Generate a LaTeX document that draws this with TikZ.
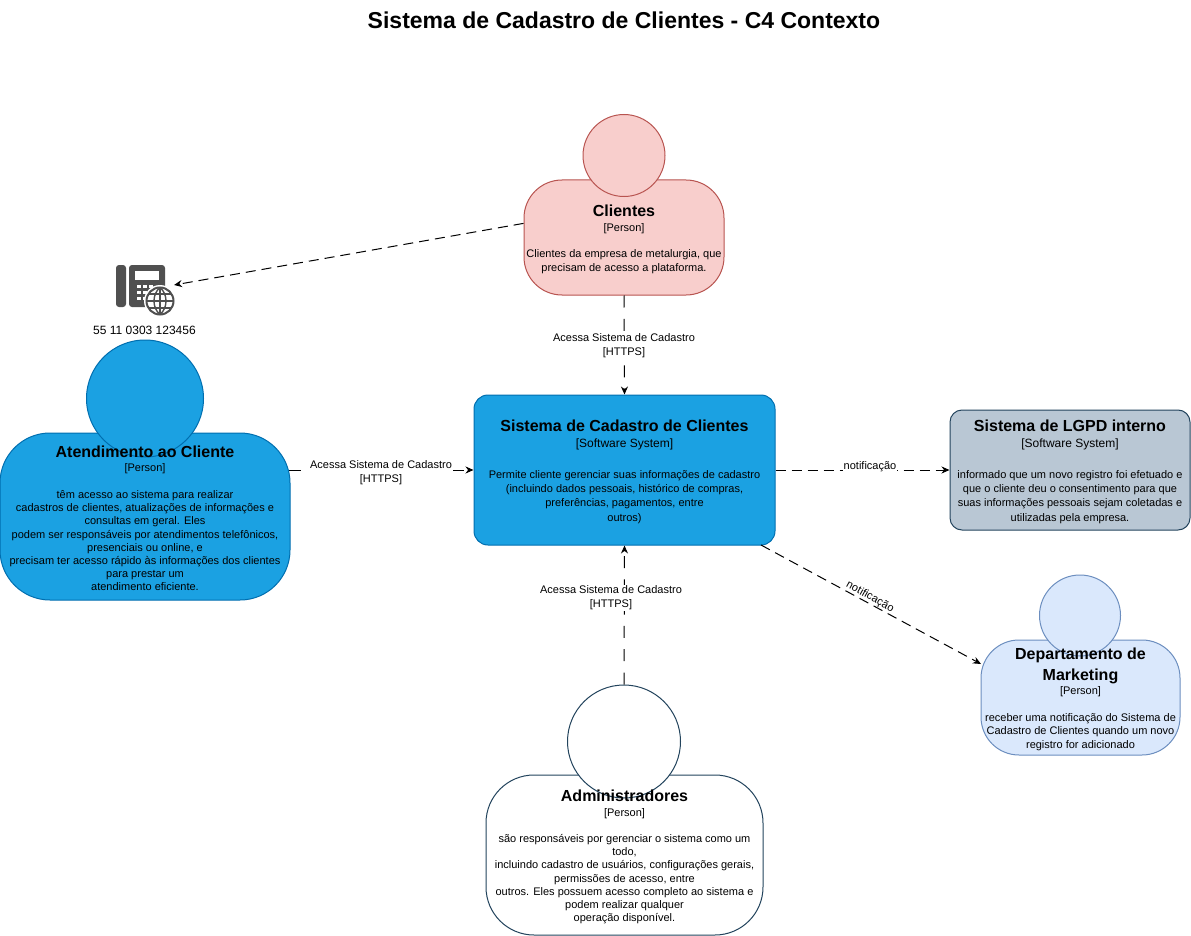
\documentclass[tikz,border=0pt]{standalone}
\usepackage{fontspec}
\setmainfont{Liberation Sans}
\usepackage{tikz}
\usetikzlibrary{arrows.meta,positioning}
\definecolor{cliFill}{HTML}{F8CECC}
\definecolor{cliLine}{HTML}{B85450}
\definecolor{sysFill}{HTML}{1BA1E2}
\definecolor{sysLine}{HTML}{006EAF}
\definecolor{lgpdFill}{HTML}{B9C7D4}
\definecolor{darkLine}{HTML}{23445D}
\definecolor{mktFill}{HTML}{DAE8FC}
\definecolor{mktLine}{HTML}{6C8EBF}
\definecolor{phoneGray}{HTML}{505050}
\newcommand{\boxhead}[1]{{\fontsize{16}{20}\selectfont\bfseries\rule{0pt}{15pt}#1}}
\newcommand{\boxtag}[1]{{\fontsize{11}{15}\selectfont #1}}
\newcommand{\systag}[1]{{\fontsize{12}{15}\selectfont #1}}
\begin{document}
\begin{tikzpicture}[x=1pt,y=-1pt, >=Stealth,
  body/.style={draw,line width=1pt,inner sep=0pt},
  head/.style={draw,line width=1pt,circle,inner sep=0pt},
  bodytext/.style={align=center,font=\fontsize{11}{13.2}\selectfont,inner sep=0pt},
  sysbox/.style={draw,line width=1pt,rounded corners=14pt,align=center,font=\fontsize{11}{14.3}\selectfont,inner sep=0pt},
  rel/.style={dash pattern=on 10pt off 6pt,line width=1pt,-{Stealth[length=8pt,width=7pt]}},
  relwide/.style={dash pattern=on 12pt off 11.3pt,line width=1pt,-{Stealth[length=8pt,width=7pt]}},
  rellabel/.style={fill=white,align=center,inner sep=1pt,font=\fontsize{11}{14.3}\selectfont}]
\useasboundingbox (0,0) rectangle (1191,936);
\node[font=\fontsize{23}{27}\selectfont\bfseries] (title) at (624,20) {Sistema de Cadastro de Clientes - C4 Contexto};
% pessoas
\node[body,rounded corners=38pt,fill=cliFill,draw=cliLine,minimum width=200pt,minimum height=115pt] (cli) at (624,237.5) {};
\node[head,fill=cliFill,draw=cliLine,minimum size=82pt] (cliHead) at (624,155.5) {};
\node[bodytext] (cliText) at (cli) {\boxhead{Clientes}\\[2pt]\boxtag{[Person]}\\[13pt]Clientes da empresa de metalurgia, que\\precisam de acesso a plataforma.};
\node[body,rounded corners=50pt,fill=sysFill,draw=sysLine,minimum width=290pt,minimum height=167pt] (ate) at (145,516.5) {};
\node[head,fill=sysFill,draw=sysLine,minimum size=117pt] (ateHead) at (145,398.5) {};
\node[bodytext] (ateText) at (ate) {\boxhead{Atendimento ao Cliente}\\[1pt]\boxtag{[Person]}\\[14pt]têm acesso ao sistema para realizar\\cadastros de clientes, atualizações de informações e\\consultas em geral. Eles\\podem ser responsáveis por atendimentos telefônicos,\\presenciais ou online, e\\precisam ter acesso rápido às informações dos clientes\\para prestar um\\atendimento eficiente.};
\node[body,rounded corners=48pt,fill=white,draw=darkLine,minimum width=277pt,minimum height=160pt] (adm) at (624.5,855) {};
\node[head,fill=white,draw=darkLine,minimum size=113pt] (admHead) at (624,741.5) {};
\node[bodytext] (admText) at (adm) {\boxhead{Administradores}\\[2pt]\boxtag{[Person]}\\[13pt]são responsáveis por gerenciar o sistema como um\\todo,\\incluindo cadastro de usuários, configurações gerais,\\permissões de acesso, entre\\outros. Eles possuem acesso completo ao sistema e\\podem realizar qualquer\\operação disponível.};
\node[body,rounded corners=38pt,fill=mktFill,draw=mktLine,minimum width=199pt,minimum height=115pt] (mkt) at (1080.5,697.5) {};
\node[head,fill=mktFill,draw=mktLine,minimum size=81pt] (mktHead) at (1080,615.5) {};
\node[bodytext] (mktText) at (mkt) {\boxhead{Departamento de}\\[4.8pt]{\fontsize{16}{20}\selectfont\bfseries Marketing}\\[1pt]\boxtag{[Person]}\\[14pt]receber uma notificação do Sistema de\\Cadastro de Clientes quando um novo\\registro for adicionado};
% sistemas
\node[sysbox,fill=sysFill,draw=sysLine,minimum width=301pt,minimum height=150pt] (sys) at (624.5,470) {\boxhead{Sistema de Cadastro de Clientes}\\[2pt]\systag{[Software System]}\\[16pt]Permite cliente gerenciar suas informações de cadastro\\(incluindo dados pessoais, histórico de compras,\\preferências, pagamentos, entre\\outros)};
\node[sysbox,rounded corners=12pt,fill=lgpdFill,draw=darkLine,minimum width=240pt,minimum height=120pt] (lgpd) at (1070,470) {\boxhead{Sistema de LGPD interno}\\[2pt]\systag{[Software System]}\\[16pt]informado que um novo registro foi efetuado e\\que o cliente deu o consentimento para que\\suas informações pessoais sejam coletadas e\\utilizadas pela empresa.};
% telefone
\node[minimum width=59pt,minimum height=52pt,inner sep=0pt] (phone) at (144.5,291) {};
\node[font=\fontsize{12}{14}\selectfont] (phoneNum) at (144.5,330) {55 11 0303 123456};
\fill[phoneGray,rounded corners=3pt] (116,265) rectangle (126,307);
\fill[phoneGray,rounded corners=3pt] (129,265) rectangle (165,307);
\fill[white] (135,271) rectangle (159,280);
\foreach \px in {137,143,149} \foreach \py in {285,291,297} \fill[white] (\px,\py) rectangle +(4,3);
\node[circle,fill=white,minimum size=32pt,inner sep=0pt] (globeBack) at (160,301) {};
\node[circle,draw=phoneGray,line width=2pt,minimum size=27pt,inner sep=0pt] (globe) at (160,301) {};
\draw[phoneGray,line width=1.4pt] (146.5,301) -- (173.5,301) (148.5,294) -- (171.5,294) (148.5,308) -- (171.5,308) (160,287.5) -- (160,314.5);
\draw[phoneGray,line width=1.4pt] (160,287.5) .. controls (152,294) and (152,308) .. (160,314.5);
\draw[phoneGray,line width=1.4pt] (160,287.5) .. controls (168,294) and (168,308) .. (160,314.5);
% relacoes
\coordinate (ateOut) at (289,470);
\coordinate (sysOut) at (761,545);
\coordinate (mktIn) at (981,664);
\coordinate (phoneIn) at (174,285);
\draw[rel] (cli.172) -- (phoneIn);
\draw[relwide] (cli.south) -- (sys.north);
\draw[relwide] (ateOut) -- (sys.west);
\draw[relwide] (admHead.north) -- (sys.south);
\draw[rel] (sys.east) -- (lgpd.west);
\draw[rel] (sysOut) -- (mktIn);
\node[rellabel] (lblCli) at (624,346) {Acessa Sistema de Cadastro\\{}[HTTPS]};
\node[rellabel] (lblAte) at (381,473) {Acessa Sistema de Cadastro\\{}[HTTPS]};
\node[rellabel] (lblAdm) at (611,598) {Acessa Sistema de Cadastro\\{}[HTTPS]};
\node[rellabel,inner sep=0.5pt] (lblLgpd) at (870,467) {notificação};
\node[font=\fontsize{11}{13.2}\selectfont,inner sep=0pt,rotate=-29] (lblMkt) at (870,597) {notificação};
\end{tikzpicture}
\end{document}
